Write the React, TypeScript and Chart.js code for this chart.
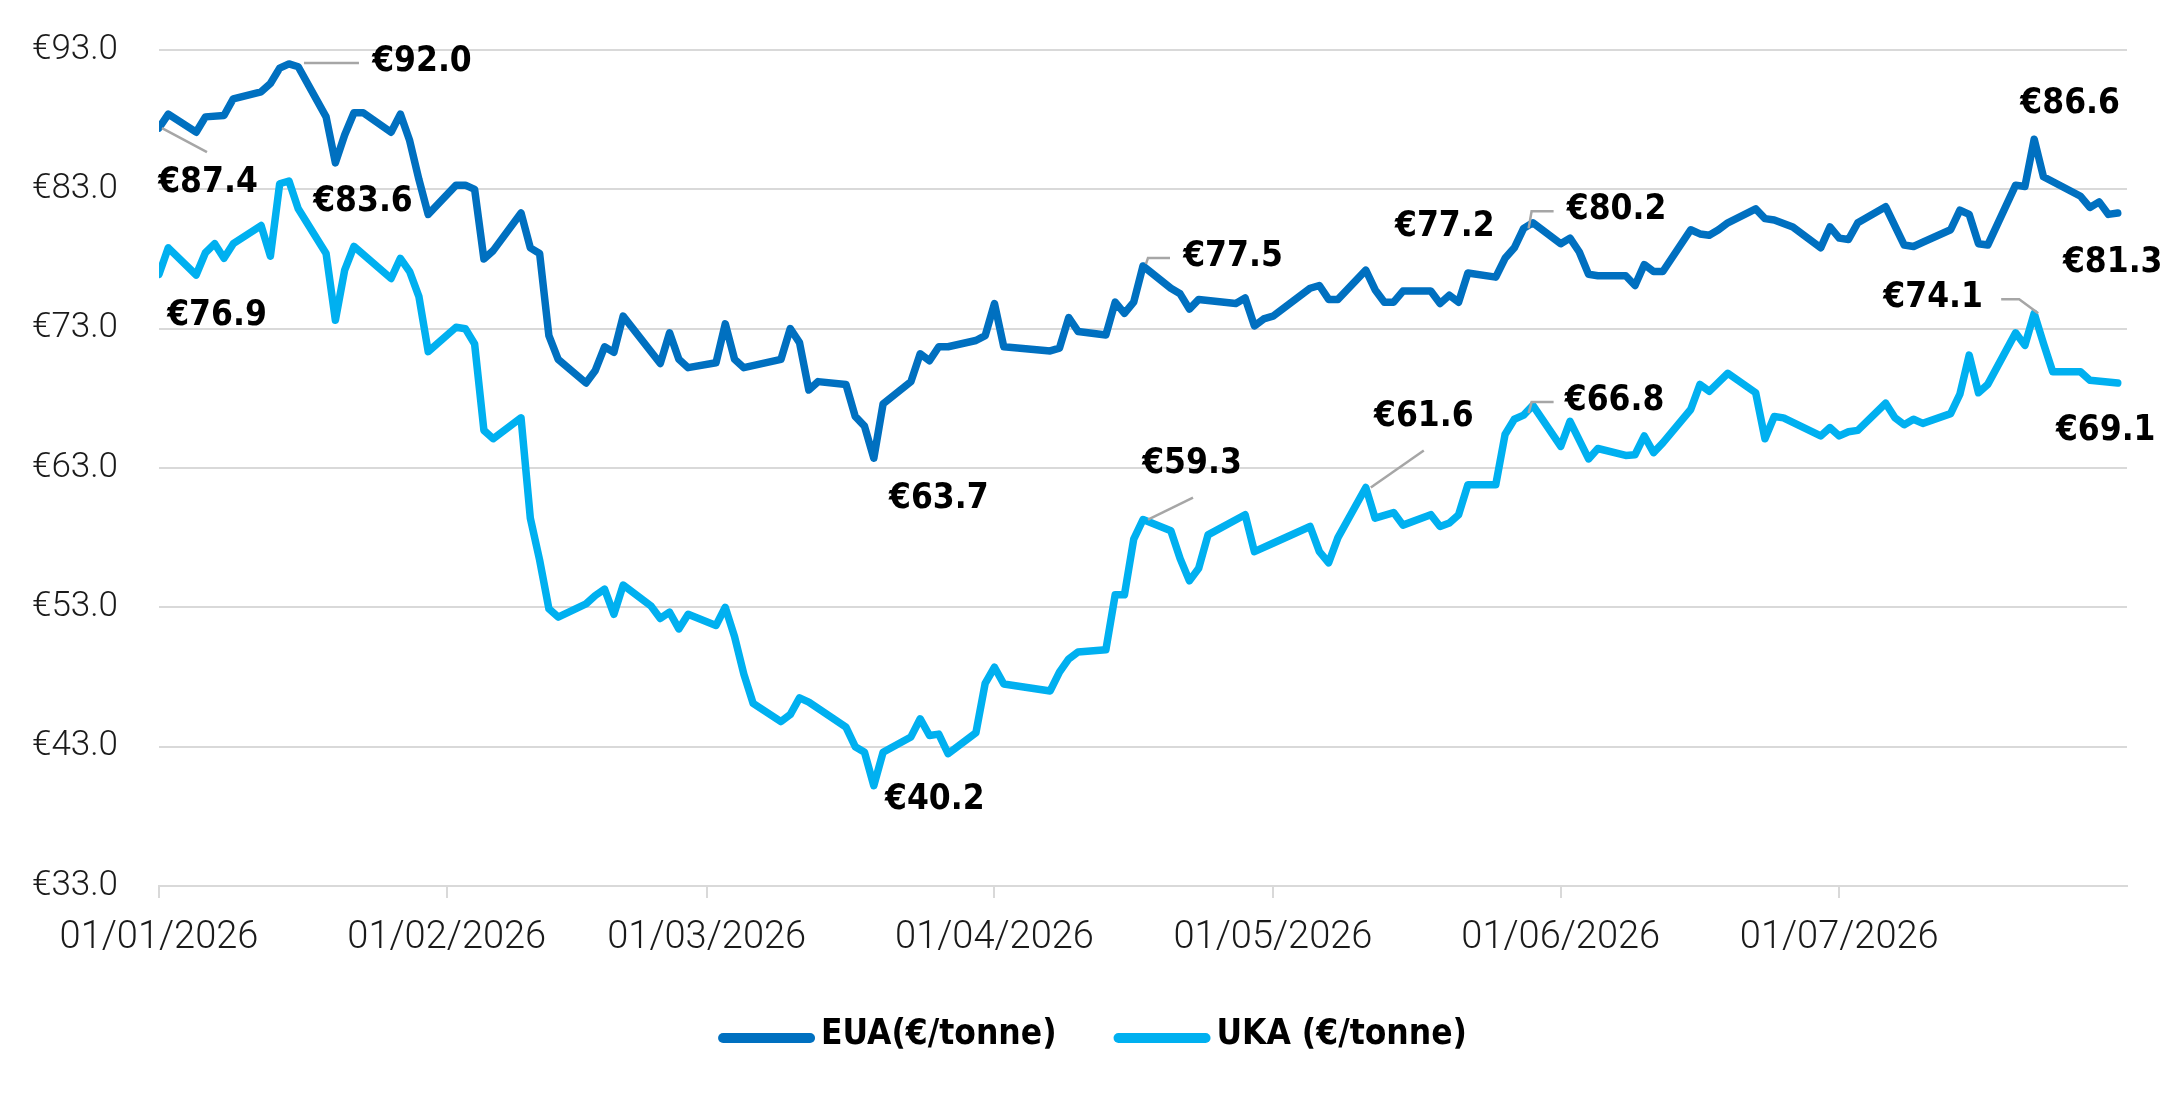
import { useEffect, useRef } from "react";
import Chart from "chart.js/auto";

// trading days (MM-DD, 2026) and closing prices, €/tonne
const euaDates = [
  "01-01", "01-02", "01-05", "01-06", "01-08", "01-09", "01-12", "01-13", "01-14", "01-15", "01-16",
  "01-19", "01-20", "01-21", "01-22", "01-23", "01-26", "01-27", "01-28", "01-29", "01-30",
  "02-02", "02-03", "02-04", "02-05", "02-06", "02-09", "02-10", "02-11", "02-12", "02-13",
  "02-16", "02-17", "02-18", "02-19", "02-20", "02-24", "02-25", "02-26", "02-27",
  "03-02", "03-03", "03-04", "03-05", "03-09", "03-10", "03-11", "03-12", "03-13",
  "03-16", "03-17", "03-18", "03-19", "03-20", "03-23", "03-24", "03-25", "03-26", "03-27",
  "03-30", "03-31", "04-01", "04-02", "04-07", "04-08", "04-09", "04-10",
  "04-13", "04-14", "04-15", "04-16", "04-17", "04-20", "04-21", "04-22", "04-23",
  "04-27", "04-28", "04-29", "04-30", "05-01", "05-05", "05-06", "05-07", "05-08",
  "05-11", "05-12", "05-13", "05-14", "05-15", "05-18", "05-19", "05-20", "05-21", "05-22",
  "05-25", "05-26", "05-27", "05-28", "05-29", "06-01", "06-02", "06-03", "06-04", "06-05",
  "06-08", "06-09", "06-10", "06-11", "06-12", "06-15", "06-16", "06-17", "06-18", "06-19",
  "06-22", "06-23", "06-24", "06-26", "06-29", "06-30", "07-01", "07-02", "07-03",
  "07-06", "07-08", "07-09", "07-10", "07-13", "07-14", "07-15", "07-16", "07-17",
  "07-20", "07-21", "07-22", "07-23", "07-27", "07-28", "07-29", "07-30", "07-31",
];
const euaValues = [
  87.4, 88.4, 87.1, 88.2, 88.3, 89.5, 90.0, 90.6, 91.7, 92.0, 91.8,
  88.2, 84.9, 86.9, 88.5, 88.5, 87.1, 88.4, 86.5, 83.7, 81.2,
  83.3, 83.3, 83.0, 78.0, 78.6, 81.3, 78.8, 78.4, 72.5, 70.8,
  69.1, 70.0, 71.7, 71.3, 73.9, 70.5, 72.7, 70.8, 70.2,
  70.55, 73.35, 70.8, 70.2, 70.8, 73.0, 72.0, 68.6, 69.2,
  69.0, 66.7, 66.0, 63.7, 67.6, 69.2, 71.2, 70.7, 71.7, 71.7,
  72.15, 72.5, 74.8, 71.7, 71.4, 71.6, 73.8, 72.8,
  72.55, 74.9, 74.1, 74.9, 77.5, 75.9, 75.5, 74.4, 75.1,
  74.8, 75.2, 73.2, 73.7, 73.9, 75.9, 76.1, 75.1, 75.1,
  77.2, 75.8, 74.9, 74.9, 75.7, 75.7, 74.8, 75.4, 74.9, 77.0,
  76.7, 78.05, 78.8, 80.2, 80.6, 79.1, 79.5, 78.5, 76.9, 76.8,
  76.8, 76.1, 77.6, 77.1, 77.1, 80.1, 79.8, 79.7, 80.1, 80.6,
  81.6, 80.9, 80.8, 80.3, 78.8, 80.3, 79.5, 79.4, 80.6,
  81.75, 79.0, 78.9, 79.2, 80.1, 81.5, 81.2, 79.1, 79.0,
  83.3, 83.2, 86.6, 83.9, 82.5, 81.7, 82.1, 81.2, 81.3,
];

const ukaDates = [
  "01-01", "01-02", "01-05", "01-06", "01-07", "01-08", "01-09", "01-12", "01-13", "01-14", "01-15", "01-16",
  "01-19", "01-20", "01-21", "01-22", "01-26", "01-27", "01-28", "01-29", "01-30",
  "02-02", "02-03", "02-04", "02-05", "02-06", "02-09", "02-10", "02-11", "02-12", "02-13",
  "02-16", "02-17", "02-18", "02-19", "02-20", "02-23", "02-24", "02-25", "02-26", "02-27",
  "03-02", "03-03", "03-04", "03-05", "03-06", "03-09", "03-10", "03-11", "03-12",
  "03-16", "03-17", "03-18", "03-19", "03-20", "03-23", "03-24", "03-25", "03-26", "03-27",
  "03-30", "03-31", "04-01", "04-02", "04-07", "04-08", "04-09", "04-10",
  "04-13", "04-14", "04-15", "04-16", "04-17", "04-20", "04-21", "04-22", "04-23", "04-24",
  "04-28", "04-29", "05-01", "05-05", "05-06", "05-07", "05-08",
  "05-11", "05-12", "05-14", "05-15", "05-18", "05-19", "05-20", "05-21", "05-22",
  "05-25", "05-26", "05-27", "05-28", "05-29", "06-01", "06-02", "06-04", "06-05",
  "06-08", "06-09", "06-10", "06-11", "06-12", "06-15", "06-16", "06-17", "06-19",
  "06-22", "06-23", "06-24", "06-25", "06-29", "06-30", "07-01", "07-02", "07-03",
  "07-06", "07-07", "07-08", "07-09", "07-10", "07-13", "07-14", "07-15", "07-16", "07-17",
  "07-20", "07-21", "07-22", "07-23", "07-24", "07-27", "07-28", "07-31",
];
const ukaValues = [
  76.9, 78.8, 76.85, 78.45, 79.1, 78.05, 79.1, 80.4, 78.2, 83.4, 83.6, 81.6,
  78.4, 73.6, 77.2, 78.9, 76.6, 78.05, 77.1, 75.3, 71.35,
  73.1, 73.0, 71.9, 65.7, 65.1, 66.6, 59.4, 56.4, 52.9, 52.3,
  53.25, 53.85, 54.3, 52.5, 54.6, 53.1, 52.2, 52.65, 51.45, 52.5,
  51.7, 53.0, 50.9, 48.2, 46.1, 44.8, 45.3, 46.5, 46.2,
  44.4, 43.0, 42.6, 40.2, 42.6, 43.7, 45.0, 43.8, 43.9, 42.5,
  44.0, 47.55, 48.7, 47.5, 47.0, 48.35, 49.3, 49.8,
  49.95, 53.9, 53.9, 57.9, 59.3, 58.5, 56.5, 54.9, 55.8, 58.2,
  59.65, 57.0, 57.6, 58.8, 57.0, 56.2, 58.0,
  61.6, 59.4, 59.8, 58.9, 59.65, 58.8, 59.05, 59.65, 61.8,
  61.8, 65.4, 66.5, 66.8, 67.5, 64.55, 66.35, 63.65, 64.4,
  63.9, 63.95, 65.3, 64.1, 64.8, 67.2, 69.0, 68.5, 69.8,
  68.4, 65.1, 66.7, 66.6, 65.3, 65.9, 65.3, 65.6, 65.7,
  67.65, 66.6, 66.1, 66.5, 66.2, 66.9, 68.3, 71.1, 68.4, 69.0,
  72.7, 71.8, 74.1, 71.95, 69.9, 69.9, 69.3, 69.1,
];

const seriesNames = ["EUA(€/tonne)", "UKA (€/tonne)"];
const seriesColors = ["#0070C0", "#00B0F0"];
const xTickLabels = ["01/01/2026", "01/02/2026", "01/03/2026", "01/04/2026", "01/05/2026", "01/06/2026", "01/07/2026"];
const yTickValues = [33, 43, 53, 63, 73, 83, 93];

// annotated points: series index, date, label offset (px) and leader line
const callouts = [
  { s: 0, date: "01-01", dx: 49, dy: 55, leader: [[3, 0], [48, 24]] },
  { s: 0, date: "01-15", dx: 133, dy: -2, leader: [[15, -1], [70, -1]] },
  { s: 1, date: "01-15", dx: 74, dy: 21, leader: [] },
  { s: 1, date: "01-01", dx: 58, dy: 42, leader: [] },
  { s: 0, date: "03-19", dx: 65, dy: 41, leader: [] },
  { s: 1, date: "03-19", dx: 61, dy: 14, leader: [] },
  { s: 0, date: "04-17", dx: 90, dy: -9, leader: [[3, -2], [5, -8], [27, -8]] },
  { s: 1, date: "04-17", dx: 49, dy: -56, leader: [[5, 0], [50, -22]] },
  { s: 1, date: "05-11", dx: 58, dy: -71, leader: [[5, 0], [58, -37]] },
  { s: 0, date: "05-11", dx: 79, dy: -43, leader: [] },
  { s: 0, date: "05-28", dx: 93, dy: -18, leader: [[5, 0], [8, -17], [30, -17]] },
  { s: 1, date: "05-28", dx: 91, dy: -14, leader: [[5, -2], [8, -13], [30, -13]] },
  { s: 0, date: "07-22", dx: 36, dy: -35, leader: [] },
  { s: 0, date: "07-31", dx: -5, dy: 50, leader: [] },
  { s: 1, date: "07-22", dx: -101, dy: -15, leader: [[4, 0], [-15, -14], [-33, -14]] },
  { s: 1, date: "07-31", dx: -12, dy: 48, leader: [] },
];

const boldFamily = '"DejaVu Sans Condensed", "Liberation Sans Narrow", sans-serif';
const thinFamily = 'Roboto, "Liberation Sans", sans-serif';

const start = Date.UTC(2026, 0, 1);
const dayOf = (mmdd: string) => {
  const [m, d] = mmdd.split("-").map(Number);
  return (Date.UTC(2026, m - 1, d) - start) / 864e5;
};
const dayOfLabel = (s: string) => {
  const [d, m, y] = s.split("/").map(Number);
  return (Date.UTC(y, m - 1, d) - start) / 864e5;
};

const allDates = [euaDates, ukaDates];
const allValues = [euaValues, ukaValues];

const calloutPlugin = {
  id: "callouts",
  afterDatasetsDraw(chart: any) {
    const { ctx, scales } = chart;
    ctx.save();
    callouts.forEach((c) => {
      const i = allDates[c.s].indexOf(c.date);
      const v = allValues[c.s][i];
      const px = scales.x.getPixelForValue(dayOf(c.date));
      const py = scales.y.getPixelForValue(v);
      if (c.leader.length) {
        ctx.beginPath();
        ctx.strokeStyle = "#A6A6A6";
        ctx.lineWidth = 2.5;
        c.leader.forEach(([lx, ly], k) => {
          if (k === 0) ctx.moveTo(px + lx, py + ly);
          else ctx.lineTo(px + lx, py + ly);
        });
        ctx.stroke();
      }
      ctx.fillStyle = "#000";
      ctx.font = `bold 35px ${boldFamily}`;
      ctx.textAlign = "center";
      ctx.textBaseline = "middle";
      ctx.fillText("€" + v.toFixed(1), px + c.dx, py + c.dy);
    });
    ctx.restore();
  },
};

// legend drawn by hand so the swatch sits tight against its text
const legendPlugin = {
  id: "lineLegend",
  afterDraw(chart: any) {
    const { ctx, width, height } = chart;
    const sw = 97, gap = 6, itemGap = 57;
    ctx.save();
    ctx.font = `bold 35px ${boldFamily}`;
    const widths = seriesNames.map((n) => ctx.measureText(n).width);
    const total = widths.reduce((a, w) => a + sw + gap + w, 0) + itemGap;
    let x = width / 2 + 5 - total / 2;
    const y = height - 67;
    seriesNames.forEach((name, s) => {
      ctx.strokeStyle = seriesColors[s];
      ctx.lineWidth = 10;
      ctx.lineCap = "round";
      ctx.beginPath();
      ctx.moveTo(x + 5, y + 3);
      ctx.lineTo(x + sw - 5, y + 3);
      ctx.stroke();
      ctx.fillStyle = "#000";
      ctx.textAlign = "left";
      ctx.textBaseline = "middle";
      ctx.fillText(name, x + sw + gap, y);
      x += sw + gap + widths[s] + itemGap;
    });
    ctx.restore();
  },
};

const App = () => {
  const canvasRef: any = useRef(null);

  useEffect(() => {
    document.body.style.margin = "0";
    const ctx = canvasRef.current.getContext("2d");

    const theChart = new Chart(ctx, {
      type: "line",
      data: {
        datasets: [0, 1].map((s) => ({
          label: seriesNames[s],
          data: allDates[s].map((d, i) => ({ x: dayOf(d), y: allValues[s][i] })),
          borderColor: seriesColors[s],
          backgroundColor: seriesColors[s],
          borderWidth: 7.5,
          borderJoinStyle: "round",
          borderCapStyle: "round",
          pointRadius: 0,
          tension: 0,
          fill: false,
        })),
      },
      options: {
        animation: false,
        responsive: true,
        maintainAspectRatio: false,
        devicePixelRatio: 1,
        layout: {
          padding: { top: 50, right: 48, bottom: 141, left: 0 },
        },
        plugins: {
          tooltip: { enabled: false },
          legend: { display: false },
        },
        scales: {
          x: {
            type: "linear",
            min: 0,
            max: 212,
            afterBuildTicks: (axis: any) => {
              axis.ticks = xTickLabels.map((l) => ({ value: dayOfLabel(l) }));
            },
            afterFit: (axis: any) => {
              axis.height = 75;
            },
            ticks: {
              autoSkip: false,
              maxRotation: 0,
              padding: 18,
              color: "#1a1a1a",
              font: { family: thinFamily, size: 38, weight: "300" },
              callback: (_v: any, i: number) => xTickLabels[i],
            },
            grid: {
              drawOnChartArea: false,
              drawTicks: true,
              tickLength: 12,
              color: "#D9D9D9",
              lineWidth: 2,
            },
            border: { display: true, color: "#D9D9D9", width: 2 },
          },
          y: {
            min: 33,
            max: 93,
            afterBuildTicks: (axis: any) => {
              axis.ticks = yTickValues.map((v) => ({ value: v }));
            },
            afterFit: (axis: any) => {
              axis.width = 159;
              axis.paddingTop = 0;
              axis.paddingBottom = 0;
            },
            ticks: {
              padding: 41,
              color: "#1a1a1a",
              font: { family: thinFamily, size: 35, weight: "300" },
              callback: (v: any) => "€" + Number(v).toFixed(1),
            },
            grid: { color: "#D9D9D9", lineWidth: 2, drawTicks: false },
            border: { display: false },
          },
        },
      },
      plugins: [calloutPlugin, legendPlugin],
    } as any);

    return () => {
      theChart.destroy();
    };
  }, []);

  return (
    <div style={{ position: "relative", width: 2175, height: 1102, background: "#fff" }}>
      <canvas ref={canvasRef} />
    </div>
  );
};

export default App;
